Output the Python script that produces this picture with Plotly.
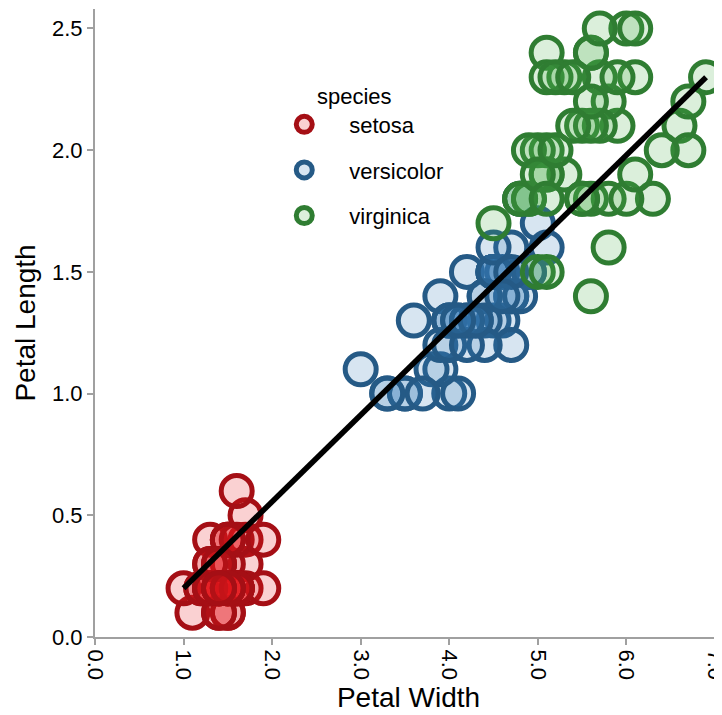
import plotly.graph_objects as go

species = ["setosa", "versicolor", "virginica"]

setosa_petal_length = [1.4,1.4,1.3,1.5,1.4,1.7,1.4,1.5,1.4,1.5,1.5,1.6,1.4,1.1,1.2,1.5,1.3,1.4,1.7,1.5,
                       1.7,1.5,1.0,1.7,1.9,1.6,1.6,1.5,1.4,1.6,1.6,1.5,1.5,1.4,1.5,1.2,1.3,1.4,1.3,1.5,
                       1.3,1.3,1.3,1.6,1.9,1.4,1.6,1.4,1.5,1.4]
setosa_petal_width = [0.2,0.2,0.2,0.2,0.2,0.4,0.3,0.2,0.2,0.1,0.2,0.2,0.1,0.1,0.2,0.4,0.4,0.3,0.3,0.3,
                      0.2,0.4,0.2,0.5,0.2,0.2,0.4,0.2,0.2,0.2,0.2,0.4,0.1,0.2,0.2,0.2,0.2,0.1,0.2,0.2,
                      0.3,0.3,0.2,0.6,0.4,0.3,0.2,0.2,0.2,0.2]
versicolor_petal_length = [4.7,4.5,4.9,4.0,4.6,4.5,4.7,3.3,4.6,3.9,3.5,4.2,4.0,4.7,3.6,4.4,4.5,4.1,4.5,3.9,
                           4.8,4.0,4.9,4.7,4.3,4.4,4.8,5.0,4.5,3.5,3.8,3.7,3.9,5.1,4.5,4.5,4.7,4.4,4.1,4.0,
                           4.4,4.6,4.0,3.3,4.2,4.2,4.2,4.3,3.0,4.1]
versicolor_petal_width = [1.4,1.5,1.5,1.3,1.5,1.3,1.6,1.0,1.3,1.4,1.0,1.5,1.0,1.4,1.3,1.4,1.5,1.0,1.5,1.1,
                          1.8,1.3,1.5,1.2,1.3,1.4,1.4,1.7,1.5,1.0,1.1,1.0,1.2,1.6,1.5,1.6,1.5,1.3,1.3,1.3,
                          1.2,1.4,1.2,1.0,1.3,1.2,1.3,1.3,1.1,1.3]
virginica_petal_length = [6.0,5.1,5.9,5.6,5.8,6.6,4.5,6.3,5.8,6.1,5.1,5.3,5.5,5.0,5.1,5.3,5.5,6.7,6.9,5.0,
                          5.7,4.9,6.7,4.9,5.7,6.0,4.8,4.9,5.6,5.8,6.1,6.4,5.6,5.1,5.6,6.1,5.6,5.5,4.8,5.4,
                          5.6,5.1,5.1,5.9,5.7,5.2,5.0,5.2,5.4,5.1]
virginica_petal_width = [2.5,1.9,2.1,1.8,2.2,2.1,1.7,1.8,1.8,2.5,2.0,1.9,2.1,2.0,2.4,2.3,1.8,2.2,2.3,1.5,
                         2.3,2.0,2.0,1.8,2.1,1.8,1.8,1.8,2.1,1.6,1.9,2.0,2.2,1.5,1.4,2.3,2.4,1.8,1.8,2.1,
                         2.4,2.3,1.9,2.3,2.5,2.3,1.9,2.0,2.3,1.8]

x_ticks = [0, 1, 2, 3, 4, 5, 6, 7]
y_ticks = [0.0, 0.5, 1.0, 1.5, 2.0, 2.5]

data = {
    "setosa": (setosa_petal_length, setosa_petal_width),
    "versicolor": (versicolor_petal_length, versicolor_petal_width),
    "virginica": (virginica_petal_length, virginica_petal_width),
}
fills = {"setosa": "rgba(228,26,28,0.2)", "versicolor": "rgba(55,126,184,0.2)", "virginica": "rgba(77,175,74,0.2)"}
lines = {"setosa": "#a50f15", "versicolor": "#255a86", "virginica": "#2f7d32"}

FONT = "Liberation Sans, Arial, sans-serif"
fig = go.Figure()
for sp in species:
    xs, ys = data[sp]
    fig.add_trace(go.Scatter(
        x=xs, y=ys, mode="markers", name=sp, legendgroup=sp,
        marker=dict(size=31, color=fills[sp], line=dict(color=lines[sp], width=5)),
    ))

# straight line from the smallest to the largest petal length point
all_x = setosa_petal_length + versicolor_petal_length + virginica_petal_length
all_y = setosa_petal_width + versicolor_petal_width + virginica_petal_width
i_min = min(range(len(all_x)), key=lambda i: (all_x[i], all_y[i]))
i_max = max(range(len(all_x)), key=lambda i: (all_x[i], -all_y[i]))
fig.add_trace(go.Scatter(
    x=[all_x[i_min], all_x[i_max]], y=[all_y[i_min], all_y[i_max]],
    mode="lines", line=dict(color="black", width=5.5), showlegend=False, hoverinfo="skip",
))

axis_common = dict(
    showgrid=False, zeroline=False, showline=True, linecolor="#a0a0a0", linewidth=2,
    ticks="outside", tickcolor="#a0a0a0", ticklen=6, tickwidth=2,
    tickfont=dict(family=FONT, size=22, color="black"), tickformat=".1f",
    ticklabeloverflow="allow", automargin=False,
)
fig.update_xaxes(**axis_common, range=[0, 7.08], tickvals=x_ticks, tickangle=90,
                 title=dict(text="Petal Width", font=dict(family=FONT, size=28, color="black"), standoff=8))
fig.update_yaxes(**axis_common, range=[0, 2.58], tickvals=y_ticks,
                 title=dict(text="Petal Length", font=dict(family=FONT, size=28, color="black"), standoff=8))

# page body has an 8px margin, so the figure is shrunk by 8px to fit the window
fig.update_layout(
    width=714, height=707,
    margin=dict(l=87, r=0, t=1, b=78),
    plot_bgcolor="white", paper_bgcolor="white",
    font=dict(family=FONT, color="black"),
    legend=dict(
        x=0.262, y=0.895, xanchor="left", yanchor="top",
        title=dict(text="species", side="top center", font=dict(family=FONT, size=22)),
        font=dict(family=FONT, size=22), bgcolor="rgba(0,0,0,0)",
        traceorder="grouped", tracegroupgap=14, itemwidth=80,
    ),
)

fig.write_html("out.html")
